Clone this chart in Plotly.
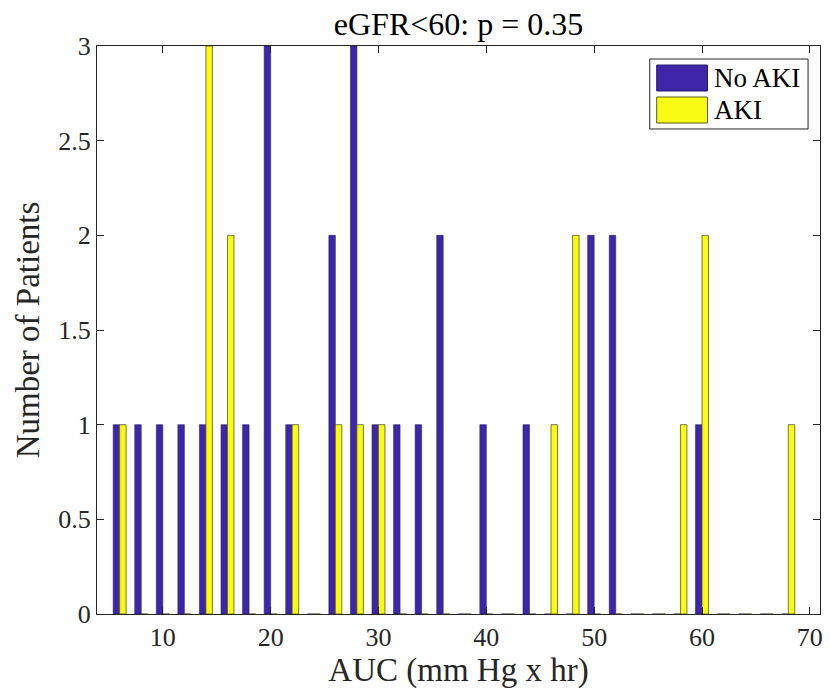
import plotly.graph_objects as go

# Bin centers (AUC, mm Hg x hr)
centers = list(range(6, 70, 2))
no_aki = [1, 1, 1, 1, 1, 1, 1, 3, 1, 0, 2, 3, 1, 1, 1, 2,
          0, 1, 0, 1, 0, 0, 2, 2, 0, 0, 0, 1, 0, 0, 0, 0]
aki = [1, 0, 0, 0, 3, 2, 0, 0, 1, 0, 1, 1, 1, 0, 0, 0,
       0, 0, 0, 0, 1, 2, 0, 0, 0, 0, 1, 2, 0, 0, 0, 1]
series_names = ["No AKI", "AKI"]
x_ticks = [10, 20, 30, 40, 50, 60, 70]
y_ticks = [0, 0.5, 1, 1.5, 2, 2.5, 3]
y_tick_text = ["0", "0.5", "1", "1.5", "2", "2.5", "3"]

FONT = "Liberation Serif, Times New Roman, serif"
AX = "#262626"
BLUE = "#3e26a8"
YELLOW = "#f9fb15"
BLUE_EDGE = "#2a1f6e"
YELLOW_EDGE = "#5a5a20"

fig = go.Figure()
fig.add_trace(go.Bar(x=centers, y=no_aki, name=series_names[0], showlegend=False,
                     marker=dict(color=BLUE, line=dict(color=BLUE_EDGE, width=0.6))))
fig.add_trace(go.Bar(x=centers, y=aki, name=series_names[1], showlegend=False,
                     marker=dict(color=YELLOW, line=dict(color=YELLOW_EDGE, width=0.8))))

# MATLAB-style legend box (paper coordinates)
shapes = [
    dict(type="rect", xref="paper", yref="paper", x0=0.7645, x1=0.9835, y0=0.8539, y1=0.9771,
         fillcolor="white", line=dict(color=AX, width=1), layer="above"),
    dict(type="rect", xref="paper", yref="paper", x0=0.7741, x1=0.8444, y0=0.9208, y1=0.9665,
         fillcolor=BLUE, line=dict(color=BLUE_EDGE, width=1), layer="above"),
    dict(type="rect", xref="paper", yref="paper", x0=0.7741, x1=0.8444, y0=0.8644, y1=0.9102,
         fillcolor=YELLOW, line=dict(color=YELLOW_EDGE, width=1), layer="above"),
]
annotations = [
    dict(text=series_names[0], xref="paper", yref="paper", x=0.8512, y=0.9437,
         xanchor="left", yanchor="middle", showarrow=False,
         font=dict(family=FONT, size=27, color="black")),
    dict(text=series_names[1], xref="paper", yref="paper", x=0.8512, y=0.8873,
         xanchor="left", yanchor="middle", showarrow=False,
         font=dict(family=FONT, size=27, color="black")),
]

fig.update_layout(
    width=830, height=698,
    margin=dict(l=97, r=7, t=46, b=84),
    paper_bgcolor="white", plot_bgcolor="white",
    barmode="group", bargap=0.4, bargroupgap=0,
    font=dict(family=FONT, color=AX, size=26),
    title=dict(text="eGFR<60: p = 0.35", xref="paper", x=0.5, xanchor="center",
               y=1 - 24 / 698, yanchor="middle",
               font=dict(family=FONT, size=32, color="black")),
    showlegend=False,
    shapes=shapes,
    annotations=annotations,
)
fig.update_xaxes(range=[3.9, 70.94], tickvals=x_ticks, ticks="inside", ticklen=7,
                 tickcolor=AX, showline=True, linecolor=AX, linewidth=1, mirror="ticks",
                 showgrid=False, zeroline=False,
                 title=dict(text="AUC (mm Hg x hr)", font=dict(family=FONT, size=33, color=AX), standoff=6),
                 tickfont=dict(family=FONT, size=26, color=AX))
fig.update_yaxes(range=[0, 3], tickvals=y_ticks, ticktext=y_tick_text, ticks="inside", ticklen=7,
                 tickcolor=AX, showline=True, linecolor=AX, linewidth=1, mirror="ticks",
                 showgrid=False, zeroline=False,
                 title=dict(text="Number of Patients", font=dict(family=FONT, size=33, color=AX), standoff=8),
                 tickfont=dict(family=FONT, size=26, color=AX))

fig.write_html("out.html", config={"displayModeBar": False},
               post_script="document.body.style.margin='0px';")
